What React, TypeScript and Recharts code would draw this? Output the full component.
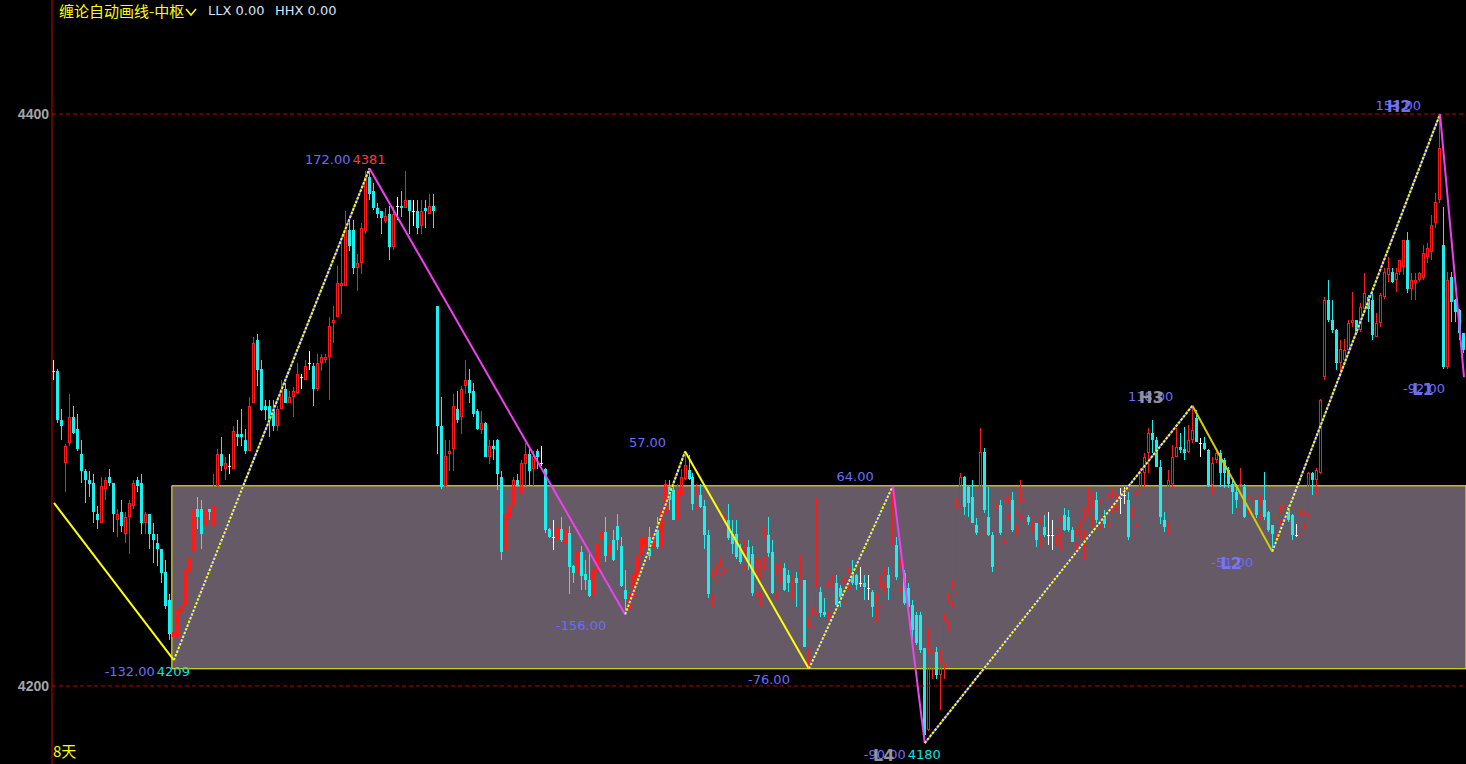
import { ComposedChart, Bar, Line, XAxis, YAxis, ReferenceArea, ReferenceLine, ReferenceDot } from "recharts"

// daily candles, left to right
const OPEN = [
  4310, 4310, 4293, 4278, 4285, 4294, 4290, 4281, 4275, 4272,
  4271, 4260, 4257, 4269, 4273, 4271, 4258, 4261, 4253, 4259,
  4263, 4272, 4271, 4257, 4260, 4253, 4250, 4248, 4240, 4230,
  4217, 4217, 4226, 4228, 4240, 4247, 4262, 4262, 4256, 4262,
  4256, 4270, 4281, 4276, 4277, 4276, 4288, 4288, 4286, 4282,
  4299, 4321, 4311, 4298, 4298, 4296.5, 4291, 4297, 4304, 4299,
  4301, 4302.5, 4308, 4307, 4313, 4312, 4304, 4313, 4314, 4315,
  4327, 4329, 4340, 4340, 4359.5, 4359.5, 4346, 4348, 4359, 4378,
  4373, 4367, 4366, 4362.5, 4365, 4353.5, 4368, 4368, 4367, 4370,
  4366, 4366, 4361, 4367, 4365, 4368, 4333, 4291, 4270, 4281,
  4283, 4297, 4294, 4305, 4307, 4303, 4296, 4289.5, 4292, 4280,
  4284, 4286, 4273, 4247.5, 4259, 4263, 4272, 4267.5, 4277.5, 4281,
  4276, 4282, 4278, 4276, 4255, 4252, 4251, 4255, 4250, 4253.5,
  4242, 4239, 4247, 4239, 4237, 4231.5, 4240, 4251, 4254, 4245.5,
  4251, 4256, 4249, 4233.7, 4227, 4231.2, 4238.2, 4245.4, 4248.6, 4252.2,
  4248.6, 4254.5, 4248.6, 4260.3, 4269.6, 4268.5, 4258, 4266.7, 4272.5, 4275.5,
  4273.2, 4262.6, 4266.7, 4263, 4252.7, 4232.3, 4237, 4239.3, 4241, 4258,
  4253.3, 4253.3, 4248, 4241.6, 4248.6, 4246, 4233, 4232.4, 4245.2, 4252.8,
  4247, 4233, 4238.2, 4241.1, 4238.8, 4237, 4237.6, 4235.9, 4237, 4212.5,
  4220.7, 4225.4, 4233, 4226, 4225.4, 4234.7, 4235.9, 4234.1, 4229.5, 4234.7,
  4239.4, 4238.8, 4235.9, 4235.9, 4234.1, 4233, 4227.7, 4227.7, 4235.9, 4238.8,
  4249.9, 4249.3, 4234.1, 4239.4, 4234.1, 4228.3, 4224.8, 4224.8, 4213.1, 4184.6,
  4205.5, 4212, 4203.8, 4207.9, 4223, 4229.5, 4233, 4262.7, 4273.2, 4269.7,
  4266.2, 4256.3, 4253.9, 4281.9, 4259.2, 4252.8, 4241.7, 4263.3, 4251, 4259.8,
  4265, 4256.3, 4259.8, 4257.4, 4259.2, 4256.9, 4256.9, 4252.2, 4255.7, 4252.8,
  4252.8, 4252.8, 4254.5, 4259.8, 4259.2, 4254.5, 4250.4, 4254.5, 4254.5, 4257.4,
  4259.2, 4265, 4258, 4259.2, 4256.8, 4263.2, 4263.2, 4265.6, 4266.7, 4265,
  4252.2, 4256.2, 4268.5, 4274.3, 4281.3, 4288.3, 4286, 4276.6, 4258, 4256.8,
  4270.8, 4280.1, 4283.6, 4283, 4281.9, 4286, 4293.6, 4284.8, 4284.8, 4282.5,
  4270.2, 4279, 4281.3, 4279, 4275.5, 4270.8, 4267.9, 4267.3, 4269.6, 4261.5,
  4259.7, 4265, 4260.3, 4265, 4260.9, 4256.2, 4253.3, 4258, 4259.2, 4262.6,
  4259.7, 4252.7, 4252.7, 4256.8, 4259.7, 4274.3, 4272, 4274.3, 4308.1, 4334.9,
  4327.9, 4324.4, 4312.8, 4314, 4317.5, 4326.8, 4327.9, 4324.4, 4332, 4336.1,
  4334.9, 4322.1, 4326.8, 4336.1, 4343.7, 4344.9, 4341.9, 4344.9, 4346.6, 4355.9,
  4339, 4340.8, 4341.9, 4342.5, 4350.1, 4351.9, 4361.8, 4369.9, 4354.2, 4311.6,
  4343.1, 4334.9, 4331.4, 4323.3,
]
const HIGH = [
  4314, 4311, 4297, 4284.5, 4302, 4298, 4295, 4286, 4276, 4275,
  4274, 4263, 4273, 4273, 4276, 4271, 4262, 4265, 4261, 4265,
  4272, 4273, 4274, 4261, 4260, 4257, 4253, 4248, 4244, 4232,
  4225, 4233, 4230, 4243, 4249, 4266, 4266, 4265, 4262, 4262,
  4274, 4283, 4287, 4280, 4281, 4291, 4293, 4297, 4290, 4301,
  4322, 4323, 4314, 4300, 4300, 4300, 4298, 4307, 4306, 4303,
  4304.5, 4313, 4309, 4314, 4317, 4313, 4316, 4316, 4316, 4329,
  4333, 4347, 4356, 4366, 4363, 4363, 4351, 4362, 4380, 4381,
  4376, 4369, 4366, 4367, 4368, 4368, 4371, 4373, 4380, 4370,
  4370, 4370, 4370, 4370, 4372, 4372, 4333, 4301, 4286, 4286,
  4302, 4303, 4305, 4314, 4311, 4306, 4297, 4296, 4292.2, 4286,
  4286, 4286.2, 4275, 4263, 4266, 4273, 4274, 4279, 4285, 4283,
  4282, 4283, 4284, 4276.2, 4255.2, 4258, 4257, 4259, 4256, 4256,
  4242.2, 4253, 4249, 4244, 4246, 4242, 4251, 4262, 4259, 4253,
  4254.5, 4260, 4252, 4240.5, 4235.8, 4240, 4248, 4255, 4258.2, 4255.6,
  4255.6, 4259, 4262, 4272, 4272, 4270.8, 4270.8, 4276, 4282, 4280.7,
  4274.3, 4270.8, 4270.8, 4265, 4254.5, 4240.5, 4242.8, 4245, 4259.7, 4263.8,
  4258, 4258, 4249.8, 4251, 4251, 4249, 4245, 4244, 4255.7, 4259.2,
  4251, 4242.9, 4242.9, 4242.9, 4240.5, 4238.8, 4240, 4245.8, 4237.2, 4224.2,
  4227.7, 4266.2, 4234.7, 4230.6, 4237, 4238.8, 4238.8, 4235.3, 4238.2, 4241.7,
  4244, 4239, 4241.7, 4238.8, 4238.8, 4233.5, 4232.4, 4238.8, 4241.7, 4241.7,
  4269.7, 4252.2, 4244, 4240.5, 4235.9, 4230, 4226, 4226, 4213.3, 4220.1,
  4212.5, 4213.7, 4212.5, 4225.4, 4232.4, 4237, 4265.6, 4274.3, 4273.4, 4269.9,
  4272, 4258.6, 4290.1, 4283.1, 4269.7, 4253.9, 4263.9, 4265, 4265.6, 4266.8,
  4267.9, 4261.5, 4272, 4265.2, 4259.8, 4259.8, 4257.1, 4259.2, 4259.8, 4260.9,
  4258, 4255.7, 4259.2, 4262.1, 4261.5, 4255.7, 4255.7, 4258, 4262.7, 4269.7,
  4267.9, 4267.9, 4265, 4261.5, 4267.3, 4269.1, 4267.3, 4269.1, 4269.7, 4267.9,
  4262.6, 4267.9, 4276.1, 4281.3, 4290.1, 4293, 4287.1, 4279, 4260.9, 4275.5,
  4284.2, 4290.1, 4288.3, 4290.6, 4291.2, 4298, 4296.5, 4286.6, 4287.1, 4283,
  4280.1, 4282.5, 4282.5, 4279.6, 4276.6, 4272, 4270.8, 4276.1, 4270.8, 4266.7,
  4266.2, 4265.2, 4266.7, 4274.9, 4261.1, 4256.4, 4259.7, 4263.2, 4263.8, 4263.2,
  4260.3, 4256.8, 4262, 4260.9, 4274.9, 4274.9, 4276.1, 4300.2, 4336.1, 4341.9,
  4334.9, 4325, 4321, 4321.5, 4327.9, 4337.9, 4328.1, 4333.8, 4344.3, 4336.7,
  4339.6, 4330.3, 4337.3, 4346, 4350.1, 4346, 4346, 4349.1, 4356.1, 4358.8,
  4344.3, 4344.3, 4344.9, 4354.2, 4354.8, 4364.7, 4372.3, 4400, 4367.6, 4344.9,
  4344.9, 4335.5, 4332, 4323.5,
]
const LOW = [
  4307, 4292, 4286, 4268, 4284, 4288, 4282, 4271, 4264, 4266,
  4257, 4255, 4257, 4265, 4270, 4254, 4252, 4254, 4250, 4246,
  4262, 4268, 4253, 4253, 4248, 4243, 4242, 4236, 4227, 4216,
  4209, 4216, 4219, 4228, 4234, 4246, 4255, 4248, 4255, 4258,
  4255, 4269, 4275, 4272, 4274, 4276, 4284, 4284, 4281, 4282,
  4299, 4305, 4296, 4293, 4287, 4289, 4289, 4297, 4299, 4299,
  4294, 4302, 4304, 4307, 4310.5, 4298, 4303, 4310, 4313, 4300,
  4320, 4329, 4330, 4340, 4352, 4344, 4338, 4344, 4358, 4370,
  4366.5, 4363.5, 4358, 4362, 4349, 4352.5, 4363, 4364, 4367, 4358,
  4361, 4358, 4358, 4360, 4365, 4360, 4281, 4269, 4266, 4275,
  4275, 4292, 4288, 4302, 4299, 4294, 4289.5, 4288, 4280, 4277.5,
  4279, 4268.5, 4244, 4247.3, 4256, 4256, 4269.8, 4266, 4270, 4270,
  4270, 4276, 4277, 4253.5, 4251.8, 4247.5, 4247.5, 4250.5, 4241, 4232,
  4236, 4238, 4233.5, 4233.5, 4231, 4228, 4237, 4249, 4243.5, 4243,
  4243.8, 4247.5, 4234.7, 4225, 4226.5, 4227.7, 4237, 4243, 4246.5, 4244,
  4245, 4248, 4247.5, 4259, 4261.5, 4258, 4257.8, 4266, 4272, 4272,
  4261.5, 4261.5, 4262.4, 4248, 4230.6, 4227.7, 4236.4, 4238.7, 4239.3, 4251,
  4246.3, 4244.5, 4242.8, 4240.5, 4240.5, 4231.5, 4231, 4227.7, 4240.5, 4245.2,
  4232.2, 4230, 4235.9, 4233.3, 4233, 4230, 4227.7, 4235.3, 4213.5, 4206.1,
  4220.5, 4224.8, 4224.2, 4224.2, 4223, 4234.5, 4228.1, 4227.7, 4228.9, 4233.5,
  4235.3, 4233.5, 4234.7, 4230, 4230, 4224.2, 4222.5, 4227.5, 4232.4, 4230,
  4249.3, 4237, 4233, 4228.3, 4226.5, 4216, 4214.3, 4211.4, 4180, 4184.4,
  4202.6, 4202.6, 4191.6, 4202.6, 4219, 4227.1, 4232.4, 4262.1, 4259.8, 4259.2,
  4256.9, 4252.8, 4253.4, 4260.4, 4252.6, 4240, 4241.1, 4252.8, 4249.9, 4258,
  4253.9, 4252.8, 4258, 4256.9, 4256.3, 4253.9, 4248.7, 4248.7, 4252.2, 4249.3,
  4247.5, 4249.3, 4247.5, 4254.3, 4253.9, 4250.2, 4247.5, 4251, 4244, 4257.2,
  4255.7, 4256.9, 4255, 4255.1, 4255.1, 4260.3, 4260.9, 4260.3, 4263.8, 4251,
  4252, 4255.6, 4267.9, 4269.6, 4274.3, 4281.3, 4276.4, 4256.8, 4253.9, 4253.3,
  4269.6, 4279.9, 4281.3, 4279, 4281.3, 4284.8, 4285.2, 4280.1, 4282.5, 4269.6,
  4267.3, 4277.8, 4269.6, 4269.1, 4269.1, 4260.3, 4262.1, 4266.7, 4258.6, 4260.3,
  4259.2, 4258.6, 4258, 4258, 4253.9, 4247, 4251, 4256.2, 4257.4, 4257.4,
  4251, 4252.2, 4252.5, 4254.5, 4259.2, 4266.7, 4266.7, 4274.1, 4307, 4327.4,
  4323.3, 4310.5, 4309.9, 4312.2, 4316.3, 4325.6, 4322.7, 4323.9, 4331.4, 4327.4,
  4321, 4321.9, 4325.6, 4335.5, 4341.4, 4340.8, 4337.9, 4343.7, 4343.7, 4337.3,
  4334.9, 4334.9, 4341.4, 4341.9, 4347.8, 4349, 4360, 4368.8, 4311, 4311,
  4327.4, 4327.4, 4321, 4316.3,
]
const CLOSE = [
  4310, 4293, 4291, 4284, 4294, 4288.5, 4283, 4275, 4272, 4270.5,
  4261, 4258, 4270, 4272, 4271, 4260, 4260, 4256, 4259, 4264,
  4271, 4270, 4257, 4260, 4253, 4251, 4248, 4239.5, 4228, 4218,
  4219, 4227, 4228, 4241, 4245, 4262, 4259, 4253, 4262, 4261,
  4263, 4281, 4277, 4278, 4277, 4289, 4287, 4287, 4282, 4298,
  4320, 4310.5, 4296.5, 4296.5, 4293, 4291, 4297, 4304, 4299, 4301,
  4303, 4309, 4308, 4312, 4313, 4304, 4313, 4315, 4315, 4326,
  4328, 4341, 4341, 4359.5, 4354, 4346, 4348, 4360, 4378, 4372,
  4367, 4365, 4363.5, 4364.5, 4353.5, 4365, 4368, 4367, 4370, 4366,
  4366, 4360, 4366, 4366, 4368, 4366, 4291, 4269.5, 4280.5, 4282,
  4298, 4293, 4304, 4307, 4302.5, 4295, 4289.7, 4292, 4280.2, 4284,
  4283, 4274, 4247, 4260, 4263, 4272, 4270, 4278, 4281, 4275,
  4280.5, 4280, 4278, 4254.5, 4252, 4252, 4255.5, 4251, 4255, 4241.5,
  4239.5, 4247, 4238.5, 4237, 4231.5, 4241, 4250, 4254, 4245.5, 4250,
  4244, 4251, 4235, 4230.3, 4232.3, 4239.3, 4245.7, 4252.2, 4252.2, 4245.4,
  4253.3, 4248.6, 4261.5, 4270.8, 4265, 4258.2, 4268.5, 4273, 4277.3, 4272.5,
  4263.8, 4266.7, 4262.6, 4252.7, 4232.3, 4238.2, 4239.3, 4241.6, 4258.5, 4251.6,
  4249.8, 4245.1, 4243.4, 4245.1, 4243.4, 4232.5, 4240, 4237.6, 4252.2, 4246.4,
  4232.4, 4238.8, 4240, 4233.5, 4235.9, 4238.2, 4235.9, 4237.6, 4213.7, 4220.7,
  4224.8, 4234.7, 4225.4, 4224.8, 4234.7, 4235.9, 4228.3, 4231.2, 4236.5, 4240,
  4235.9, 4235.3, 4235.9, 4234.7, 4234.1, 4227.7, 4228.9, 4234.7, 4238.8, 4234.1,
  4251, 4238.2, 4241.7, 4228.9, 4227.7, 4219.5, 4214.9, 4212.5, 4182.8, 4211.4,
  4212, 4203.8, 4207.9, 4223, 4229.5, 4234.1, 4262.7, 4273.2, 4262.7, 4263.9,
  4257.1, 4253.4, 4281.9, 4261.5, 4252.8, 4241.7, 4262.7, 4253.4, 4265, 4264.4,
  4254.5, 4260.9, 4263.9, 4265, 4257.4, 4259.2, 4251, 4256.9, 4252.8, 4252.8,
  4252.8, 4255.1, 4258, 4254.5, 4254.5, 4250.4, 4252.8, 4255.7, 4258, 4259.8,
  4262.1, 4258, 4264, 4256.8, 4265.6, 4266.2, 4265.6, 4265.6, 4266.7, 4252.2,
  4259.2, 4266.7, 4274.3, 4280.1, 4288.3, 4286, 4276.6, 4259.2, 4255.7, 4272,
  4280.1, 4283.6, 4282.5, 4281.3, 4286, 4289.5, 4285.4, 4284.8, 4283, 4270.2,
  4277.8, 4281.3, 4274.3, 4274.3, 4270.8, 4267.9, 4265, 4270.8, 4259.2, 4266.2,
  4265.6, 4259.7, 4263.8, 4259.2, 4254.5, 4253.3, 4259.2, 4260.9, 4262.6, 4258,
  4252.7, 4252.7, 4259.7, 4259.7, 4274.3, 4272, 4275.5, 4300, 4334.9, 4327.9,
  4324.4, 4312.8, 4318, 4317.5, 4326.8, 4327.9, 4323.3, 4332.6, 4337.3, 4332,
  4322.7, 4326.8, 4336.7, 4344.9, 4346, 4341.4, 4344.3, 4348.9, 4355.9, 4339,
  4341.9, 4341.9, 4344.3, 4351.3, 4353, 4361.2, 4369.3, 4388, 4311.6, 4341.9,
  4334.4, 4330.9, 4323.3, 4317.5,
]

// zigzag pivots (candle index, price)
const PIVOT_IDX = [0, 30, 79, 143, 158, 189, 210, 218, 285, 305, 347, 353]
const PIVOT_VAL = [4264, 4209, 4381, 4225, 4282, 4206, 4270, 4180, 4298, 4247, 4400, 4308]
const SEG_KIND = ["solid", "dotted", "magenta", "dotted", "solid", "dotted", "magenta", "dotted", "olive", "dotted", "magenta"]
const MOVE_TEXT = ["", "-132.00", "172.00", "-156.00", "57.00", "-76.00", "64.00", "-90.00", "118.00", "-51.00", "153.00", "-92.00"]
const PRICE_TEXT = ["", "4209", "4381", "", "", "", "", "4180", "", "", "", ""]
const TAG_TEXT = ["", "", "", "", "", "", "", "L4", "H3", "L2", "H2", "L1"]

// zhongshu box
const ZS_START = 30
const ZS_END = 353
const ZS_LOW = 4206
const ZS_HIGH = 4270

const Y_TICKS = [4200, 4400]
const Y_DOMAIN = [4172.7, 4439.9]

const RED = "#ff1a1a"
const CYAN = "#19f0f0"
const WHITE = "#ffffff"
const NUM_BLUE = "#6c6cff"
const LABEL_FONT = "'DejaVu Sans', sans-serif"
const CJK_FONT = "'Noto Sans CJK SC', sans-serif"

const rows = OPEN.map((o, i) => {
  const row: Record<string, number | undefined> = { i, o, h: HIGH[i], l: LOW[i], c: CLOSE[i] }
  return row
})
for (let s = 0; s < PIVOT_IDX.length - 1; s++) {
  rows[PIVOT_IDX[s]][`s${s}`] = PIVOT_VAL[s]
  rows[PIVOT_IDX[s + 1]][`s${s}`] = PIVOT_VAL[s + 1]
}

function Candle(props: any) {
  const { x, y, width, height, payload } = props
  if (!payload || x == null) return null
  const { o, h, l, c } = payload
  const top = Math.min(y, y + height)
  const span = Math.abs(height)
  const k = h > l ? span / (h - l) : 0
  const py = (v: number) => top + (h - v) * k
  const cx = Math.floor(x + width / 2)
  const wx = cx + 0.5
  const bTop = Math.round(py(Math.max(o, c)))
  const bBot = Math.round(py(Math.min(o, c)))
  const hiY = Math.round(py(h))
  const loY = Math.round(py(l))

  if (c > o) {
    // hollow red candle
    return (
      <g>
        <line x1={wx} x2={wx} y1={hiY} y2={bTop} stroke={RED} strokeWidth={1} />
        <line x1={wx} x2={wx} y1={bBot} y2={loY} stroke={RED} strokeWidth={1} />
        <rect x={cx - 0.5} y={bTop + 0.5} width={2} height={Math.max(bBot - bTop - 1, 0)} fill="none" stroke={RED} strokeWidth={1} />
      </g>
    )
  }
  if (c < o) {
    return (
      <g>
        <line x1={wx} x2={wx} y1={hiY} y2={loY} stroke={CYAN} strokeWidth={1} />
        <rect x={cx - 1} y={bTop} width={3} height={Math.max(bBot - bTop, 1)} fill={CYAN} />
      </g>
    )
  }
  return (
    <g>
      <line x1={wx} x2={wx} y1={hiY} y2={loY} stroke={WHITE} strokeWidth={1} />
      <line x1={cx - 1} x2={cx + 2} y1={bTop + 0.5} y2={bTop + 0.5} stroke={WHITE} strokeWidth={1} />
    </g>
  )
}

function PivotLabel({ viewBox, k }: any) {
  if (!viewBox) return null
  const px = viewBox.x
  const py = viewBox.y
  const isHigh = PIVOT_VAL[k] > PIVOT_VAL[k - 1]
  const ty = py + (isHigh ? -9 : 11)
  const tag = TAG_TEXT[k]
  const tagGrey = tag === "H3" || tag === "L4"
  return (
    <g>
      <text x={px - 19} y={ty} textAnchor="end" dominantBaseline="central" fill={NUM_BLUE} fontSize={13} fontFamily={LABEL_FONT}>
        {MOVE_TEXT[k]}
      </text>
      {PRICE_TEXT[k] && (
        <text x={px - 17} y={ty} textAnchor="start" dominantBaseline="central" fill={isHigh ? "#ff3a3a" : "#10e0e0"} fontSize={13} fontFamily={LABEL_FONT}>
          {PRICE_TEXT[k]}
        </text>
      )}
      {tag && (
        <text x={px - 41} y={ty + 1} textAnchor="middle" dominantBaseline="central" fill={tagGrey ? "#a0a0a0" : "#7a7aff"} fontSize={16} fontWeight={700} fontFamily={LABEL_FONT} opacity={0.9}>
          {tag}
        </text>
      )}
    </g>
  )
}

function segLines(s: number) {
  const key = `s${s}`
  const kind = SEG_KIND[s]
  const common = { dataKey: key, type: "linear" as const, dot: false, activeDot: false, connectNulls: true, isAnimationActive: false, strokeWidth: 2 }
  if (kind === "dotted") {
    return [
      <Line key={key + "b"} {...common} stroke="#4a4aff" />,
      <Line key={key + "y"} {...common} stroke="#ffff00" strokeDasharray="2.5 1.5" />,
    ]
  }
  const color = kind === "magenta" ? "#f040f0" : kind === "olive" ? "#d6cc00" : "#ffff00"
  return [<Line key={key} {...common} stroke={color} />]
}

export default function App() {
  return (
    <div style={{ position: "fixed", left: 0, top: 0, width: 1466, height: 764, background: "#000", overflow: "hidden" }}>
      <ComposedChart width={1466} height={764} data={rows} margin={{ top: 0, right: 0, bottom: 0, left: 0 }}>
        <XAxis dataKey="i" type="category" hide />
        <YAxis
          type="number"
          domain={Y_DOMAIN}
          allowDataOverflow
          ticks={Y_TICKS}
          width={52}
          axisLine={{ stroke: "#d00000", strokeWidth: 1 }}
          tickLine={{ stroke: "transparent" }}
          tickSize={3}
          tickMargin={0}
          tick={{ fill: "#a4a4a4", fontSize: 14, fontWeight: "bold", fontFamily: "'Liberation Sans', Arial, sans-serif" }}
        />
        <ReferenceArea x1={ZS_START} x2={ZS_END} y1={ZS_LOW} y2={ZS_HIGH} fill="#655a66" fillOpacity={1} stroke="#ffff00" strokeWidth={1} zIndex={-10} />
        {Y_TICKS.map((t) => (
          <ReferenceLine key={t} y={t} stroke="#b80000" strokeDasharray="4 3" />
        ))}
        <Bar dataKey={(d: any) => [d.l, d.h]} shape={<Candle />} isAnimationActive={false} />
        {SEG_KIND.flatMap((_, s) => segLines(s))}
        {PIVOT_IDX.map((idx, k) =>
          k === 0 ? null : (
            <ReferenceDot key={`p${k}`} x={idx} y={PIVOT_VAL[k]} r={0} fill="none" stroke="none" label={(p: any) => <PivotLabel {...p} k={k} />} />
          )
        )}
      </ComposedChart>

      <div style={{ position: "absolute", left: 59, top: 2, color: "#ffff00", fontFamily: CJK_FONT, fontSize: 15, lineHeight: "18px", whiteSpace: "nowrap" }}>
        缠论自动画线-中枢
      </div>
      <svg style={{ position: "absolute", left: 184, top: 6 }} width={14} height={12}>
        <polyline points="2,3 7,9 12,3" fill="none" stroke="#ffff00" strokeWidth={1.5} />
      </svg>
      <div style={{ position: "absolute", left: 208, top: 3, color: "#d2e4ff", fontFamily: LABEL_FONT, fontSize: 13, lineHeight: "16px", whiteSpace: "nowrap" }}>
        LLX 0.00
      </div>
      <div style={{ position: "absolute", left: 275, top: 3, color: "#d2e4ff", fontFamily: LABEL_FONT, fontSize: 13, lineHeight: "16px", whiteSpace: "nowrap" }}>
        HHX 0.00
      </div>
      <div style={{ position: "absolute", left: 53, top: 742, color: "#ffff00", fontFamily: CJK_FONT, fontSize: 15, lineHeight: "18px", whiteSpace: "nowrap" }}>
        8天
      </div>
    </div>
  )
}
